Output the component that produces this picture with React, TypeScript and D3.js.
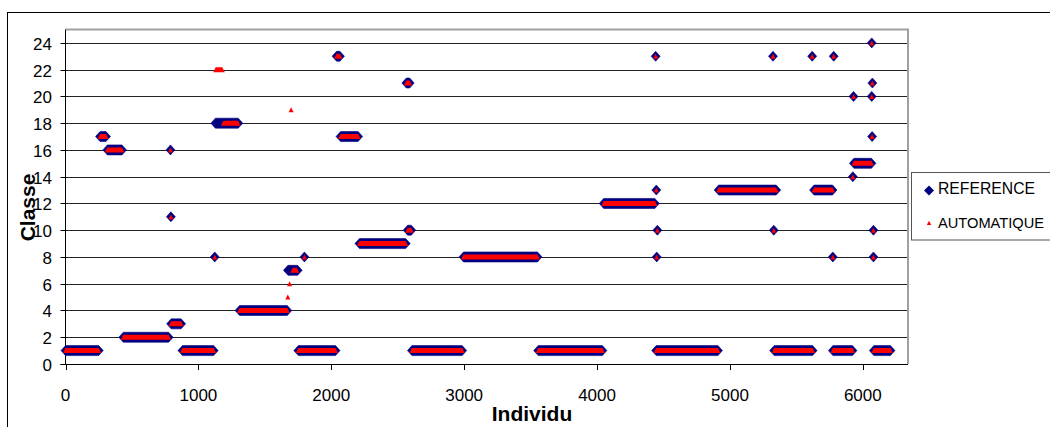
import React from "react";
import * as d3 from "d3";

// Runs of consecutive individuals sharing a class: start individual, end individual, class
const refStart = [0, 260, 315, 435, 790, 793, 795, 880, 1123, 1128, 1310, 1674, 1752, 1798, 2040, 2070, 2212, 2565, 2575, 2607, 2995, 3557, 4050, 4441, 4446, 4449, 4454, 4445, 4915, 5324, 5330, 5333, 5619, 5633, 5774, 5781, 5775, 5925, 5930, 5933, 6067, 6067, 6070, 6072, 6080, 6080, 6083];
const refEnd = [250, 305, 425, 776, 790, 793, 870, 1115, 1123, 1300, 1669, 1747, 2032, 1798, 2065, 2202, 2560, 2590, 2602, 2985, 3552, 4040, 4435, 4441, 4446, 4449, 4454, 4910, 5348, 5324, 5330, 5622, 5619, 5772, 5774, 5781, 5922, 5925, 5930, 6065, 6067, 6067, 6070, 6072, 6080, 6080, 6208];
const refClass = [1, 17, 16, 2, 16, 11, 3, 1, 8, 18, 4, 7, 1, 8, 23, 17, 9, 21, 10, 1, 8, 1, 12, 23, 13, 8, 10, 1, 13, 23, 10, 1, 23, 13, 8, 23, 1, 14, 20, 15, 24, 20, 17, 21, 10, 8, 1];

const autoStart = [0, 260, 315, 435, 790, 793, 795, 880, 1123, 1130, 1188, 1310, 1673, 1686, 1698, 1710, 1752, 1798, 2040, 2070, 2212, 2565, 2575, 2607, 2995, 3557, 4050, 4441, 4446, 4449, 4454, 4445, 4915, 5324, 5330, 5333, 5619, 5633, 5774, 5781, 5775, 5925, 5930, 5933, 6067, 6067, 6070, 6072, 6080, 6080, 6083];
const autoEnd = [250, 305, 425, 776, 790, 793, 870, 1115, 1123, 1180, 1298, 1669, 1673, 1686, 1698, 1740, 2032, 1798, 2065, 2202, 2560, 2590, 2602, 2985, 3552, 4040, 4435, 4441, 4446, 4449, 4454, 4910, 5348, 5324, 5330, 5622, 5619, 5772, 5774, 5781, 5922, 5925, 5930, 6065, 6067, 6067, 6070, 6072, 6080, 6080, 6208];
const autoClass = [1, 17, 16, 2, 16, 11, 3, 1, 8, 22, 18, 4, 5, 6, 19, 7, 1, 8, 23, 17, 9, 21, 10, 1, 8, 1, 12, 23, 13, 8, 10, 1, 13, 23, 10, 1, 23, 13, 8, 23, 1, 14, 20, 15, 24, 20, 17, 21, 10, 8, 1];

const xTicks = [0, 1000, 2000, 3000, 4000, 5000, 6000];
const yTicks = [0, 2, 4, 6, 8, 10, 12, 14, 16, 18, 20, 22, 24];
const seriesNames = ["REFERENCE", "AUTOMATIQUE"];

const FONT = "'Liberation Sans', Arial, sans-serif";
const NAVY = "#000080";
const RED = "#ff0000";

export default function App() {
  const left = 65.5, right = 908, top = 29.5, bottom = 364;
  const x = d3.scaleLinear().domain([0, 6340]).range([left, right]);
  const y = d3.scaleLinear().domain([0, 25]).range([bottom, top]);

  const dw = 4.5, dh = 5; // diamond half sizes
  const tw = 2.5, th = 2.5; // triangle half sizes

  const diamondRun = (s: number, e: number, c: number) => {
    const x0 = x(s), x1 = x(e), yy = y(c);
    const p = d3.path();
    p.moveTo(x0 - dw, yy);
    p.lineTo(x0, yy - dh);
    p.lineTo(x1, yy - dh);
    p.lineTo(x1 + dw, yy);
    p.lineTo(x1, yy + dh);
    p.lineTo(x0, yy + dh);
    p.closePath();
    return p.toString();
  };
  const triangleRun = (s: number, e: number, c: number) => {
    const x0 = x(s), x1 = x(e), yy = y(c);
    const p = d3.path();
    p.moveTo(x0 - tw, yy + th);
    p.lineTo(x0, yy - th);
    p.lineTo(x1, yy - th);
    p.lineTo(x1 + tw, yy + th);
    p.closePath();
    return p.toString();
  };

  const gridVals = yTicks.filter((v) => v > 0);

  return (
    <svg width={1050} height={427} style={{ position: "absolute", left: 0, top: 0, background: "#fff" }} fontFamily={FONT}>
      <rect x={0} y={0} width={1050} height={427} fill="#fff" />
      {/* outer chart border */}
      <rect x={7.5} y={12.5} width={1200} height={600} fill="#fff" stroke="#000" strokeWidth={1} />
      {/* plot area */}
      <rect x={left} y={top} width={right - left} height={bottom - top} fill="#fff" />
      {gridVals.map((v) => (
        <line key={"g" + v} x1={left} x2={right} y1={Math.round(y(v)) + 0.5} y2={Math.round(y(v)) + 0.5} stroke="#222" strokeWidth={1} />
      ))}
      {/* plot border top & right */}
      <line x1={left} x2={right + 1} y1={top} y2={top} stroke="#a0a0a0" strokeWidth={2} />
      <line x1={right} x2={right} y1={top} y2={bottom} stroke="#a0a0a0" strokeWidth={2} />
      {/* axes */}
      <line x1={left} x2={left} y1={top} y2={bottom} stroke="#000" strokeWidth={1} />
      <line x1={left - 5} x2={right} y1={bottom + 0.5} y2={bottom + 0.5} stroke="#000" strokeWidth={1} />
      {yTicks.map((v) => (
        <g key={"yt" + v}>
          <line x1={left - 5} x2={left} y1={Math.round(y(v)) + 0.5} y2={Math.round(y(v)) + 0.5} stroke="#000" />
          <text x={52} y={y(v) + 7} textAnchor="end" fontSize={17} fill="#000">{v}</text>
        </g>
      ))}
      {xTicks.map((v) => (
        <g key={"xt" + v}>
          <line x1={Math.round(x(v)) + 0.5} x2={Math.round(x(v)) + 0.5} y1={bottom} y2={bottom + 6} stroke="#000" />
          <text x={x(v)} y={401} textAnchor="middle" fontSize={17} fill="#000">{v}</text>
        </g>
      ))}
      {/* series */}
      <g>
        {refStart.map((s, i) => (
          <path key={"r" + i} d={diamondRun(s, refEnd[i], refClass[i])} fill={NAVY} stroke={NAVY} strokeWidth={0.6} />
        ))}
      </g>
      <g>
        {autoStart.map((s, i) => (
          <path key={"a" + i} d={triangleRun(s, autoEnd[i], autoClass[i])} fill={RED} />
        ))}
      </g>
      {/* axis titles */}
      <text x={532} y={421} textAnchor="middle" fontSize={21} fontWeight="bold" fill="#000">Individu</text>
      <text transform={`translate(35,207.5) rotate(-90)`} textAnchor="middle" fontSize={21} fontWeight="bold" fill="#000">Classe</text>
      {/* legend */}
      <rect x={911.5} y={172.5} width={200} height={67.5} fill="#fff" stroke="#555" strokeWidth={1} />
      <path d="M-5,0 L0,-5 L5,0 L0,5 Z" transform="translate(929,190.5)" fill={NAVY} />
      <text x={938} y={194} fontSize={16} fill="#000" textLength={97} lengthAdjust="spacingAndGlyphs">{seriesNames[0]}</text>
      <path d="M-2.2,2 L0,-2.2 L2.2,2 Z" transform="translate(929,223)" fill={RED} />
      <text x={938} y={227.5} fontSize={15} fill="#000" textLength={106} lengthAdjust="spacingAndGlyphs">{seriesNames[1]}</text>
    </svg>
  );
}
